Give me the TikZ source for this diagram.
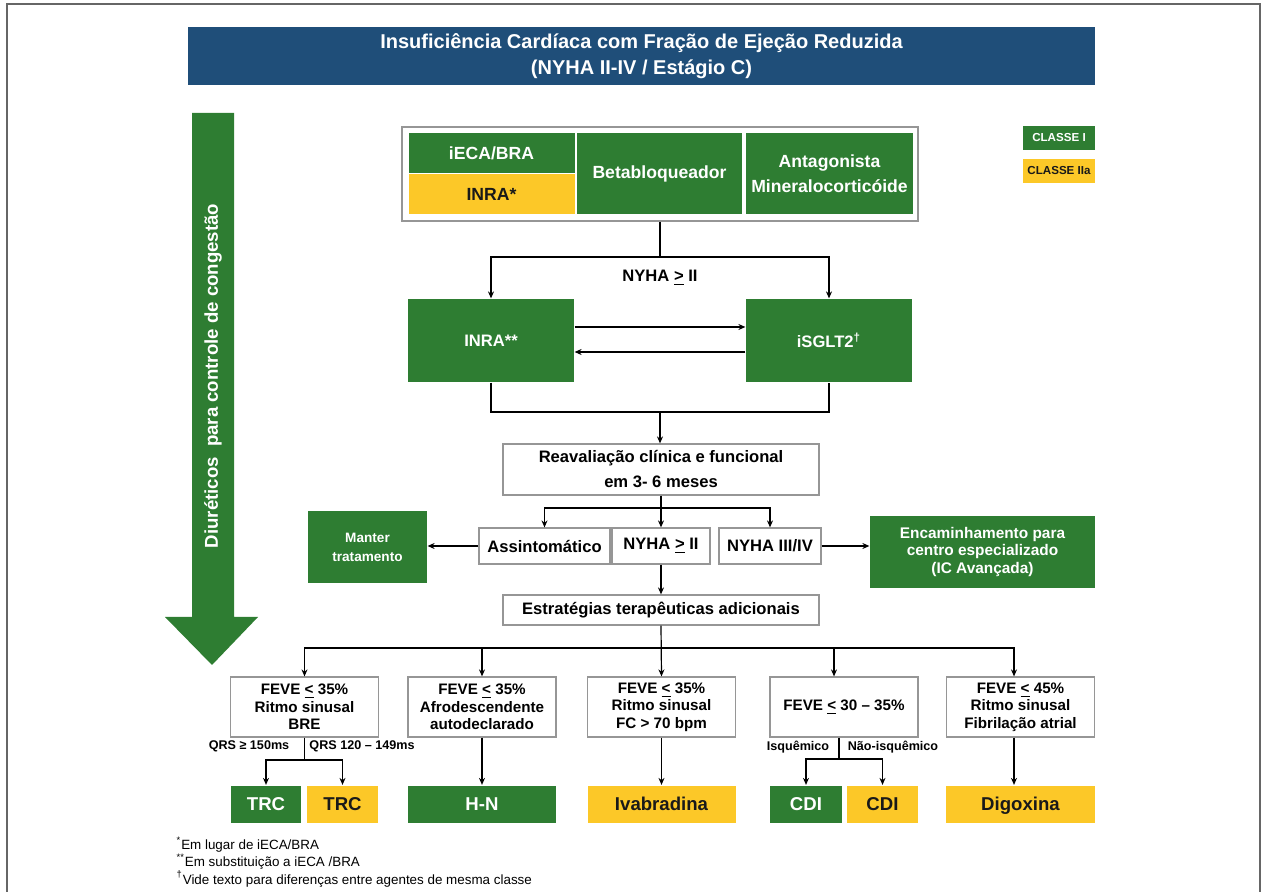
\documentclass[tikz,border=0pt]{standalone}
\usepackage{fontspec}
\setmainfont{Liberation Sans}
\usepackage{xcolor}
\usepackage{tikz}
\usetikzlibrary{arrows.meta,positioning}

\definecolor{verde}{RGB}{46,125,50}
\definecolor{amarelo}{RGB}{252,200,40}
\definecolor{azul}{RGB}{31,78,121}
\definecolor{cinza}{RGB}{150,150,150}

\tikzset{
  >={Stealth[length=3.5pt,width=3pt]},
  larg/.style={minimum width=#1*0.5pt},
  alt/.style={minimum height=#1*0.5pt},
  base/.style={align=center, inner sep=1pt, font=\fontsize{8.3}{12.5}\selectfont\bfseries},
  caixa/.style={base, draw=cinza, fill=white, text=black},
  verdebox/.style={base, fill=verde, text=white},
  amarelobox/.style={base, fill=amarelo, text=black!90},
  crit/.style={caixa, larg=148, alt=60, font=\fontsize{7.6}{8.75}\selectfont\bfseries},
  res/.style={larg=#1, alt=37, text height=6.7pt, text depth=0pt, font=\fontsize{9.3}{11}\selectfont\bfseries},
  lbl/.style={inner sep=0pt, font=\fontsize{6.3}{7.5}\selectfont\bfseries},
}

\begin{document}
\begin{tikzpicture}[x=0.5pt, y=-0.5pt, line width=0.6pt]
    \useasboundingbox (0,0) rectangle (1264,892);

    % Page frame
    \draw[black!60, line width=1pt] (7,892) -- (7,4) -- (1260,4) -- (1260,892);

    % Title
    \node[base, fill=azul, text=white, larg=907, alt=58, font=\fontsize{10}{13}\selectfont\bfseries] (titulo) at (641.5,56)
        {Insuficiência Cardíaca com Fração de Ejeção Reduzida\\(NYHA II-IV / Estágio C)};

    % Diuretics arrow
    \fill[verde] (192,113) -- (234,113) -- (234,617) -- (258,617) -- (212,665) -- (165,617) -- (192,617) -- cycle;
    \node[rotate=90, text=white, font=\fontsize{9.3}{11}\selectfont\bfseries] (diuretico) at (213,376)
        {Diuréticos \ para controle de congestão};

    % Legend
    \node[verdebox, larg=72, alt=24, font=\fontsize{5.8}{7}\selectfont\bfseries] (classeI) at (1059,138) {CLASSE I};
    \node[amarelobox, larg=72, alt=24, font=\fontsize{5.8}{7}\selectfont\bfseries] (classeII) at (1059,171) {CLASSE IIa};

    % Base therapy
    \node[draw=cinza, larg=516, alt=94] (grupo) at (660,174) {};
    \node[verdebox, larg=166, alt=40, font=\fontsize{8.8}{12.5}\selectfont\bfseries] (ieca) at (491.5,153) {iECA/BRA};
    \node[amarelobox, larg=166, alt=40, font=\fontsize{8.8}{12.5}\selectfont\bfseries] (inraA) at (491.5,194.5) {INRA*};
    \node[verdebox, larg=165, alt=81, font=\fontsize{8.8}{12.5}\selectfont\bfseries] (beta) at (659.5,174) {Betabloqueador};
    \node[verdebox, larg=167, alt=81, font=\fontsize{8.8}{12.5}\selectfont\bfseries] (antag) at (829.5,174) {Antagonista\\Mineralocorticóide};

    % NYHA >= II
    \node[verdebox, larg=166, alt=83] (inraB) at (491,340.5) {INRA**};
    \node[verdebox, larg=166, alt=83] (sglt) at (829,340.5) {iSGLT2\textsuperscript{†}};
    \node[base] (nyhaA) at (660,278) {NYHA \underline{>} II};
    \coordinate (j1) at (660,257);
    \draw (grupo.south) -- (j1);
    \draw[->] (j1) -| (inraB.north);
    \draw[->] (j1) -| (sglt.north);
    \draw[->] ([yshift=6.75pt]inraB.east) -- ([yshift=6.75pt]sglt.west);
    \draw[->] ([yshift=-5.75pt]sglt.west) -- ([yshift=-5.75pt]inraB.east);

    % Reassessment
    \node[caixa, larg=316, alt=51] (reav) at (661,469.5) {Reavaliação clínica e funcional\\em 3- 6 meses};
    \coordinate (j2) at (660,412);
    \draw (inraB.south) |- (j2) -| (sglt.south);
    \draw[->] (j2) -- (reav.north -| j2);

    \node[caixa, larg=131, alt=36] (assint) at (544.5,546) {Assintomático};
    \node[caixa, larg=98, alt=36] (nyhaB) at (661,546) {NYHA \underline{>} II};
    \node[caixa, larg=102, alt=36] (nyha34) at (770,546) {NYHA III/IV};
    \node[verdebox, larg=119, alt=72, font=\fontsize{6.8}{9.5}\selectfont\bfseries] (manter) at (367.5,547) {Manter\\tratamento};
    \node[verdebox, larg=225, alt=72, font=\fontsize{7.7}{8.75}\selectfont\bfseries] (encam) at (982.5,552)
        {Encaminhamento para\\centro especializado\\(IC Avançada)};
    \coordinate (j3) at (661,508);
    \draw[->] (reav.south) -- (nyhaB.north);
    \draw[->] (j3) -| (assint.north);
    \draw[->] (j3) -| (nyha34.north);
    \draw[->] (assint.west) -- (assint.west -| manter.east);
    \draw[->] (nyha34.east) -- (nyha34.east -| encam.west);

    % Additional strategies
    \node[caixa, larg=316, alt=30] (estrat) at (661,610) {Estratégias terapêuticas adicionais};
    \draw[->] (nyhaB.south) -- (estrat.north);

    \foreach \n/\x/\txt in {c1/304.5/{FEVE \underline{<} 35\%\\Ritmo sinusal\\BRE},
                            c2/482/{FEVE \underline{<} 35\%\\Afrodescendente\\autodeclarado},
                            c3/661.5/{FEVE \underline{<} 35\%\\Ritmo sinusal\\FC > 70 bpm},
                            c4/844/{FEVE \underline{<} 30 – 35\%},
                            c5/1020.5/{FEVE \underline{<} 45\%\\Ritmo sinusal\\Fibrilação atrial}}
        \node[crit] (\n) at (\x,707) {\txt};

    \coordinate (j4) at (661,648);
    \draw[->] (estrat.south) -- (c3.north);
    \foreach \n/\dx in {c1/0pt,c2/0pt,c4/-5pt,c5/-3.25pt}
        \draw[->] (j4) -| ([xshift=\dx]\n.north);

    % Results
    \node[verdebox, res=70] (trcA) at (266,804) {TRC};
    \node[amarelobox, res=71] (trcB) at (342.5,804) {TRC};
    \node[verdebox, res=148] (hn) at (482,804) {H-N};
    \node[amarelobox, res=148] (ivab) at (661.5,804) {Ivabradina};
    \node[verdebox, res=72] (cdiA) at (806,804) {CDI};
    \node[amarelobox, res=71] (cdiB) at (882.5,804) {CDI};
    \node[amarelobox, res=149] (digox) at (1020.5,804) {Digoxina};

    \node[lbl] (qrsA) at (249,746) {QRS ≥ 150ms};
    \node[lbl] (qrsB) at (362,746) {QRS 120 – 149ms};
    \node[lbl] (isq) at (798,747) {Isquêmico};
    \node[lbl] (naoisq) at (893,747) {Não-isquêmico};

    \coordinate (q1) at (304.5,760);
    \draw (c1.south) -- (q1);
    \draw[->] (q1) -| (trcA.north);
    \draw[->] (q1) -| (trcB.north);
    \coordinate (q4) at (839,759);
    \draw (c4.south -| q4) -- (q4);
    \draw[->] (q4) -| (cdiA.north);
    \draw[->] (q4) -| (cdiB.north);
    \draw[->] (c2.south) -- (hn.north);
    \draw[->] (c3.south) -- (ivab.north);
    \draw[->] ([xshift=-3.25pt]c5.south) -- ([xshift=-3.25pt]digox.north);

    % Footnotes
    \node[anchor=north west, align=left, inner sep=0pt, font=\fontsize{6.7}{6.6}\selectfont] (notas) at (176,836)
        {\textsuperscript{*}Em lugar de iECA/BRA\\
         \textsuperscript{**}Em substituição a iECA /BRA\\
         \textsuperscript{†}Vide texto para diferenças entre agentes de mesma classe};
\end{tikzpicture}
\end{document}
